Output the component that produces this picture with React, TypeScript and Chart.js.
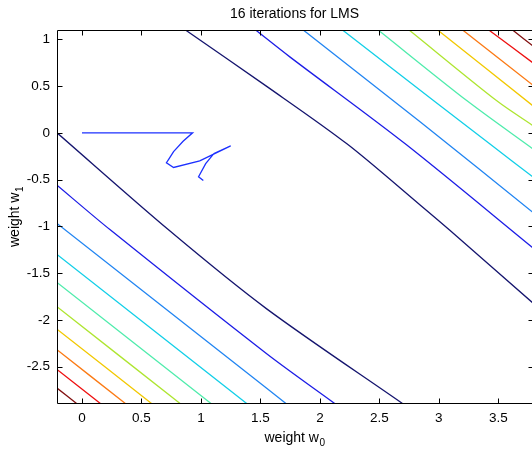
import React, { useEffect, useRef } from "react";
import { Chart, registerables } from "chart.js";

Chart.register(...registerables);

// Axis ticks
const xTicks = [0, 0.5, 1, 1.5, 2, 2.5, 3, 3.5];
const yTicks = [1, 0.5, 0, -0.5, -1, -1.5, -2, -2.5];

// LMS trajectory (16 iterations)
const lmsW0 = [0, 0.93, 0.85, 0.77, 0.73, 0.71, 0.77, 0.99, 1.25, 1.11, 1.04, 0.98, 1.02];
const lmsW1 = [0, 0, -0.09, -0.2, -0.28, -0.32, -0.37, -0.3, -0.14, -0.22, -0.33, -0.47, -0.51];

// Contour lines, upper-right side (level 1 = innermost)
const upper1 = [[0.87, 1.1], [1.55, 0.5], [2.23, -0.12], [2.85, -0.78], [3.09, -1.04], [3.8, -1.83]];
const upper2 = [[1.46, 1.1], [1.75, 0.81], [2.72, -0.12], [3.8, -1.24]];
const upper3 = [[1.86, 1.1], [2.85, 0.11], [3.8, -0.86]];
const upper4 = [[2.19, 1.1], [2.96, 0.34], [3.43, -0.12], [3.8, -0.48]];
const upper5 = [[2.49, 1.1], [3.24, 0.34], [3.8, -0.18]];
const upper6 = [[2.75, 1.1], [3.49, 0.34], [3.8, 0.07]];
const upper7 = [[2.99, 1.1], [3.8, 0.28]];
const upper8 = [[3.2, 1.1], [3.8, 0.5]];
const upper9 = [[3.42, 1.1], [3.8, 0.74]];
const upper10 = [[3.62, 1.1], [3.8, 0.92]];

// Contour lines, lower-left side
const lower1 = [[-0.21, 0.0], [0.73, -1.04], [1.55, -1.88], [2.7, -2.9]];
const lower2 = [[-0.21, -0.56], [0.24, -1.04], [1.55, -2.36], [2.13, -2.9]];
const lower3 = [[-0.21, -0.97], [1.55, -2.73], [1.72, -2.9]];
const lower4 = [[-0.21, -1.3], [1.39, -2.9]];
const lower5 = [[-0.21, -1.6], [1.09, -2.9]];
const lower6 = [[-0.21, -1.86], [0.83, -2.9]];
const lower7 = [[-0.21, -2.1], [0.59, -2.9]];
const lower8 = [[-0.21, -2.32], [0.37, -2.9]];
const lower9 = [[-0.21, -2.53], [0.16, -2.9]];
const lower10 = [[-0.21, -2.73], [-0.04, -2.9]];

const upperLines = [upper1, upper2, upper3, upper4, upper5, upper6, upper7, upper8, upper9, upper10];
const lowerLines = [lower1, lower2, lower3, lower4, lower5, lower6, lower7, lower8, lower9, lower10];

const levelColors = [
  "#14146e",
  "#1c1ce6",
  "#2185f2",
  "#12cfe8",
  "#4fecac",
  "#aee530",
  "#f2c800",
  "#fb7a14",
  "#ee1010",
  "#821010",
];
const pathColor = "#1c30ff";

const FONT = '"Liberation Sans", Arial, Helvetica, sans-serif';

const framePlugin = {
  id: "matlabFrame",
  afterDatasetsDraw(chart: any) {
    const { ctx, chartArea: a, scales } = chart;
    ctx.save();
    ctx.strokeStyle = "#000";
    ctx.lineWidth = 1;
    ctx.beginPath();
    const L = Math.round(a.left) + 0.5;
    const R = Math.round(a.right) - 0.5;
    const T = Math.round(a.top) + 0.5;
    const B = Math.round(a.bottom) - 0.5;
    ctx.moveTo(L, T);
    ctx.lineTo(R, T);
    ctx.lineTo(R, B);
    ctx.lineTo(L, B);
    ctx.closePath();
    const tl = 5;
    for (const v of xTicks) {
      const px = Math.round(scales.x.getPixelForValue(v)) + 0.5;
      ctx.moveTo(px, B);
      ctx.lineTo(px, B - tl);
      ctx.moveTo(px, T);
      ctx.lineTo(px, T + tl);
    }
    for (const v of yTicks) {
      const py = Math.round(scales.y.getPixelForValue(v)) + 0.5;
      ctx.moveTo(L, py);
      ctx.lineTo(L + tl, py);
      ctx.moveTo(R, py);
      ctx.lineTo(R - tl, py);
    }
    ctx.stroke();

    // Title
    ctx.fillStyle = "#000";
    ctx.font = `14px ${FONT}`;
    ctx.textAlign = "center";
    ctx.textBaseline = "alphabetic";
    const cx = (a.left + a.right) / 2 - 1;
    ctx.fillText("16 iterations for LMS", cx, 18);

    // Axis label with subscript
    const drawLabel = (main: string, sub: string, x: number, y: number) => {
      ctx.font = `14px ${FONT}`;
      const w1 = ctx.measureText(main).width;
      ctx.font = `10px ${FONT}`;
      const w2 = ctx.measureText(sub).width;
      const start = x - (w1 + w2) / 2;
      ctx.textAlign = "left";
      ctx.font = `14px ${FONT}`;
      ctx.fillText(main, start, y);
      ctx.font = `10px ${FONT}`;
      ctx.fillText(sub, start + w1 + 0.5, y + 4);
    };
    drawLabel("weight w", "0", cx, 442);

    ctx.save();
    ctx.translate(19, (a.top + a.bottom) / 2);
    ctx.rotate(-Math.PI / 2);
    drawLabel("weight w", "1", 0, 0);
    ctx.restore();

    ctx.restore();
  },
};

export default function App() {
  const ref = useRef<HTMLCanvasElement | null>(null);

  useEffect(() => {
    if (!ref.current) return;
    const toPts = (line: number[][]) => line.map(([x, y]) => ({ x, y }));
    const datasets: any[] = [];
    const addLine = (line: number[][], color: string) => {
      datasets.push({
        data: toPts(line),
        borderColor: color,
        borderWidth: 1.3,
        pointRadius: 0,
        showLine: true,
        fill: false,
        tension: 0.3,
      });
    };
    upperLines.forEach((line, i) => addLine(line, levelColors[i]));
    lowerLines.forEach((line, i) => addLine(line, levelColors[i]));
    datasets.push({
      data: lmsW0.map((x, i) => ({ x, y: lmsW1[i] })),
      borderColor: pathColor,
      borderWidth: 1.3,
      pointRadius: 0,
      showLine: true,
      fill: false,
      tension: 0,
    });

    const chart = new Chart(ref.current, {
      type: "scatter",
      data: { datasets },
      options: {
        responsive: false,
        animation: false,
        devicePixelRatio: 1,
        layout: { padding: { top: 30, left: 0, right: 1, bottom: 0 } },
        plugins: {
          legend: { display: false },
          tooltip: { enabled: false },
          title: { display: false },
        },
        scales: {
          x: {
            type: "linear",
            min: -0.21,
            max: 3.8,
            grid: { display: false, drawTicks: false },
            border: { display: false },
            afterBuildTicks: (s: any) => {
              s.ticks = xTicks.map((v) => ({ value: v }));
            },
            afterFit: (s: any) => {
              s.height = 49;
            },
            ticks: {
              padding: 6,
              color: "#000",
              autoSkip: false,
              maxRotation: 0,
              font: { family: FONT, size: 13.5 },
              callback: (v: any) => String(v),
            },
          },
          y: {
            type: "linear",
            min: -2.9,
            max: 1.1,
            grid: { display: false, drawTicks: false },
            border: { display: false },
            afterBuildTicks: (s: any) => {
              s.ticks = yTicks.map((v) => ({ value: v }));
            },
            afterFit: (s: any) => {
              s.width = 57;
            },
            ticks: {
              padding: 7,
              color: "#000",
              autoSkip: false,
              font: { family: FONT, size: 13.5 },
              callback: (v: any) => String(v),
            },
          },
        },
      },
      plugins: [framePlugin],
    } as any);
    return () => chart.destroy();
  }, []);

  return (
    <div
      style={{
        position: "fixed",
        left: 0,
        top: 0,
        width: 532,
        height: 453,
        overflow: "hidden",
        background: "#fff",
      }}
    >
      <canvas ref={ref} width={535} height={453} style={{ display: "block" }} />
    </div>
  );
}
